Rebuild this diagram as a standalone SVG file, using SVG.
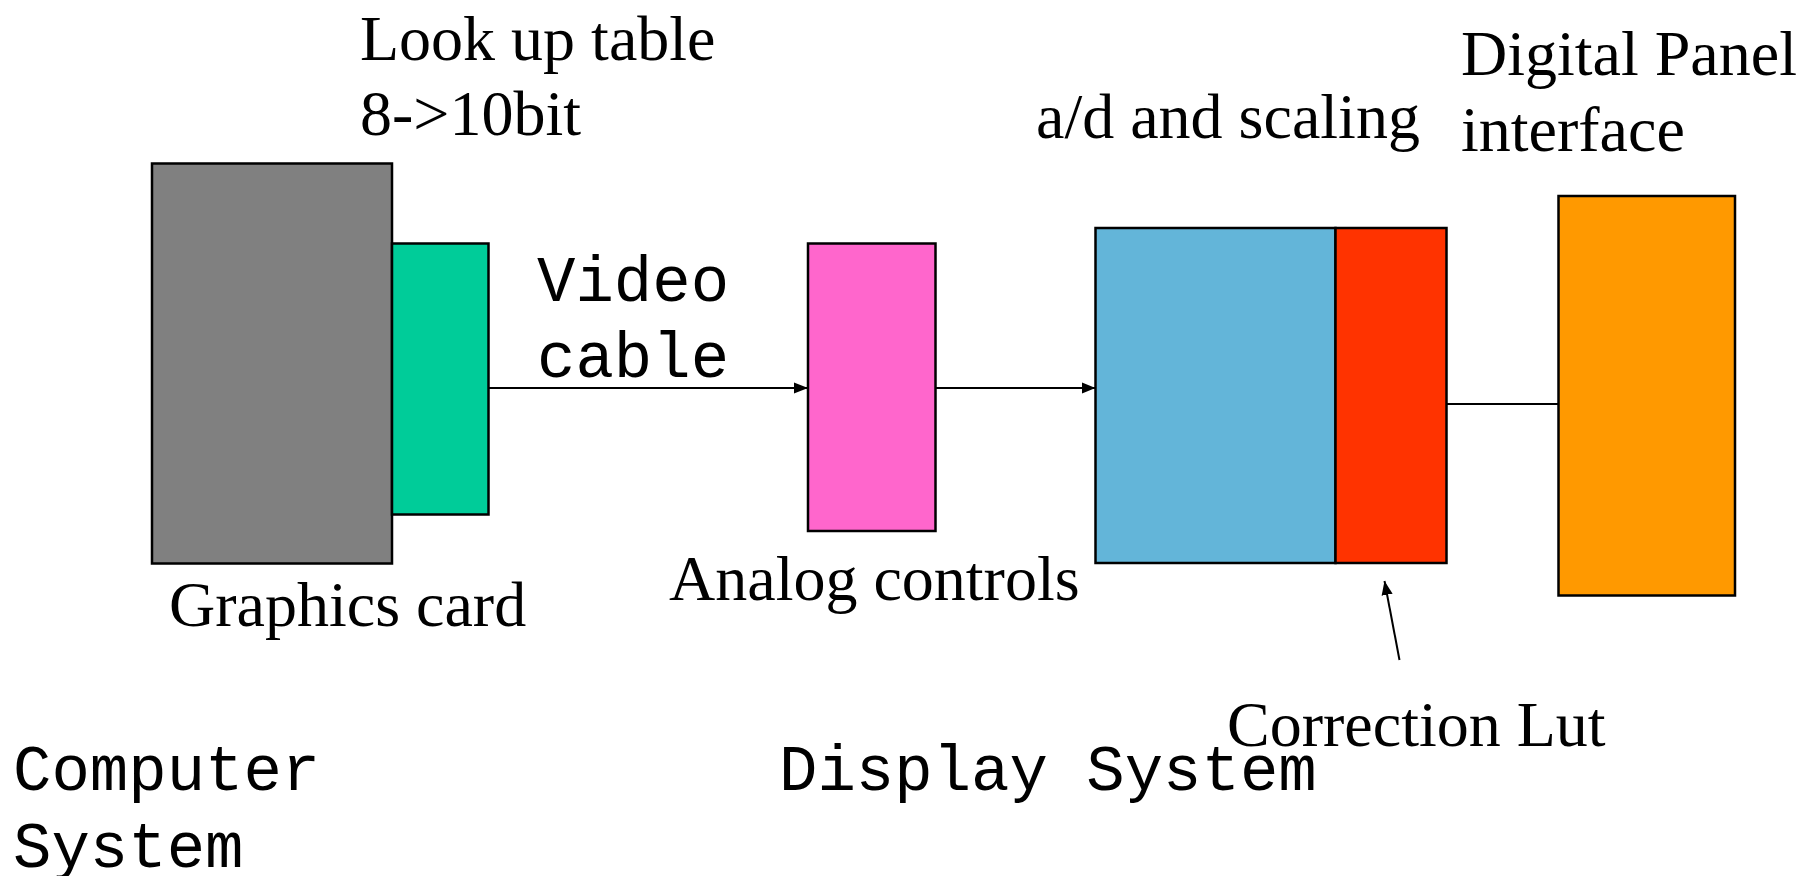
<svg xmlns="http://www.w3.org/2000/svg" width="1802" height="876" viewBox="0 0 1802 876">
<defs>
<style>
.box{stroke:#000;stroke-width:2.5}
.serif{font-family:"Liberation Serif","Times New Roman",serif;font-size:64px;fill:#000}
.mono{font-family:"Liberation Mono","Courier New",monospace;font-size:64px;fill:#000}
.conn{stroke:#000;stroke-width:2;fill:none}
</style>
<marker id="arr" viewBox="0 0 10 10" refX="10" refY="5" markerWidth="7" markerHeight="7" markerUnits="userSpaceOnUse" orient="auto">
<path d="M0,0 L10,5 L0,10 Z" fill="#000"/>
</marker>
<marker id="arrL" viewBox="0 0 10 10" refX="10" refY="5" markerWidth="14" markerHeight="14" markerUnits="userSpaceOnUse" orient="auto">
<path d="M0,1 L10,5 L0,9 Z" fill="#000"/>
</marker>
</defs>
<rect width="1802" height="876" fill="#fff"/>
<g id="graphics-card">
<rect class="box" x="152" y="163.5" width="240" height="400" fill="#808080"/>
<text class="serif" x="169" y="626">Graphics card</text>
</g>
<g id="lut">
<rect class="box" x="392" y="243.5" width="96.5" height="271" fill="#00CC99"/>
<text class="serif" x="360" y="60">Look up table</text>
<text class="serif" x="360" y="135">8-&gt;10bit</text>
</g>
<g id="analog-controls">
<rect class="box" x="808" y="243.5" width="127.5" height="287.5" fill="#FF66CC"/>
<text class="serif" x="669" y="600">Analog controls</text>
</g>
<g id="ad-scaling">
<rect class="box" x="1095.5" y="228" width="240" height="335" fill="#63B5D9"/>
<text class="serif" x="1036" y="138">a/d and scaling</text>
</g>
<g id="correction-lut">
<rect class="box" x="1335.5" y="228" width="111" height="335" fill="#FF3300"/>
<text class="serif" x="1227" y="746">Correction Lut</text>
</g>
<g id="digital-panel">
<rect class="box" x="1558.5" y="196" width="176.5" height="399.5" fill="#FF9900"/>
<text class="serif" x="1461" y="75">Digital Panel</text>
<text class="serif" x="1461" y="151">interface</text>
</g>
<g id="labels">
<text class="mono" x="537" y="301">Video</text>
<text class="mono" x="537" y="377">cable</text>
<text class="mono" x="13" y="790">Computer</text>
<text class="mono" x="13" y="867">System</text>
<text class="mono" x="779" y="790">Display System</text>
</g>
<g id="connectors">
<line class="conn" x1="488.5" y1="388" x2="808" y2="388" marker-end="url(#arrL)"/>
<line class="conn" x1="935.5" y1="388" x2="1095.5" y2="388" marker-end="url(#arrL)"/>
<line class="conn" x1="1446.5" y1="404" x2="1558.5" y2="404"/>
<line class="conn" x1="1399.5" y1="660" x2="1384.5" y2="581" stroke-width="1.8" marker-end="url(#arrL)"/>
</g>
</svg>
